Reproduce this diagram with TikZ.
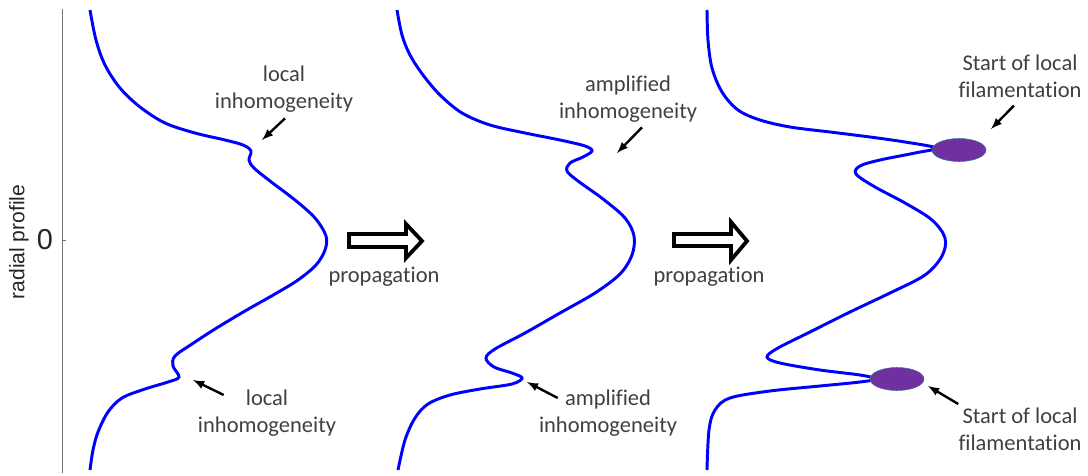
\documentclass[tikz,border=0pt]{standalone}
\usepackage{fontspec}
\setmainfont{Carlito}[Ligatures=NoCommon]
\newfontfamily\axisfont{Liberation Sans}
\usetikzlibrary{shapes,arrows,positioning,calc}
\definecolor{txtgray}{RGB}{64,64,64}
\definecolor{axisgray}{RGB}{38,38,38}
\definecolor{filpurple}{RGB}{112,48,160}
\definecolor{filedge}{RGB}{65,113,156}
\tikzset{
    profile/.style={
            blue,
            line width=2.1pt,
            smooth,
            tension=0.55
        },
    annot/.style={
            text=txtgray,
            align=center,
            inner sep=0pt,
            font=\fontsize{16}{19}\selectfont
        },
    pointer/.style={
            -latex,
            line width=1.7pt
        },
    propagation arrow/.style={
            draw=black,
            fill=white,
            line width=2.7pt,
            line join=miter
        },
    filament/.style={
            ellipse,
            fill=filpurple,
            draw=filedge,
            line width=0.4pt,
            minimum width=1.35cm,
            minimum height=0.575cm,
            inner sep=0pt
        },
    axisline/.style={
            black!55,
            line width=0.7pt
        }
}
\begin{document}
\begin{tikzpicture}[x=0.025cm, y=-0.025cm]
  \useasboundingbox (0,0) rectangle (1088,475);
  % axis
  \draw[axisline] (62,9) -- (62,473);
  \draw[axisline] (62,240) -- (66,240);
  \node[text=axisgray, font=\axisfont\fontsize{20.5}{24}\selectfont] (zero) at (45,240) {0};
  \node[text=axisgray, font=\axisfont\fontsize{15}{18}\selectfont, rotate=90] (ylabel) at (19,242) {radial profile};
  % profiles
  \draw[profile] plot coordinates {(90,10) (96,40) (105,65) (120,88) (140,107) (165,123) (195,133) (225,140) (243,145) (251,151) (249,160) (254,168) (270,181) (295,200) (315,218) (326,236) (325,250) (316,265) (298,280) (275,294) (245,311) (215,329) (192,344) (175,356) (173,366) (179,377) (168,382) (145,389) (122,398) (108,412) (98,432) (93,450) (90,470)};
  \draw[profile] plot coordinates {(397,10) (402,35) (410,55) (423,75) (440,95) (462,113) (490,125) (525,133) (560,140) (585,146) (592,151) (583,157) (570,163) (567,171) (578,181) (603,199) (625,218) (634,236) (632,255) (620,274) (595,293) (560,313) (525,333) (495,349) (486,358) (494,367) (512,373) (522,378) (512,384) (480,389) (450,395) (428,404) (415,418) (405,440) (398,470)};
  \draw[profile] plot coordinates {(707,10) (708,40) (712,68) (722,92) (738,110) (760,120) (790,127) (830,132) (870,137) (905,142) (936,148) (915,153) (880,160) (860,166) (856,174) (875,187) (905,203) (932,220) (945,238) (942,256) (925,275) (890,293) (850,312) (810,332) (778,348) (767,357) (780,363) (820,370) (860,375) (876,379) (860,382) (820,386) (770,391) (730,398) (715,410) (709,430) (707,470)};
  \node[filament] (filtop) at (959,150) {};
  \node[filament] (filbot) at (897,379) {};
  % propagation arrows
  \draw[propagation arrow] (349,234) -- (406,234) -- (406,224) -- (422,241) -- (406,258) -- (406,247) -- (349,247) -- cycle;
  \draw[propagation arrow] (674,234) -- (731,234) -- (731,222) -- (747,241) -- (731,260) -- (731,246) -- (674,246) -- cycle;
  \node[annot, anchor=base] (prop1) at (384,282) {propagation};
  \node[annot, anchor=base] (prop2) at (709,282) {propagation};
  % annotations
  \node[annot] (inhomtop) at (284,89) {local\\inhomogeneity};
  \node[annot] (inhombot) at (267,413) {local\\inhomogeneity};
  \node[annot] (amptop) at (628,99) {amplified\\inhomogeneity};
  \node[annot] (ampbot) at (608,413) {amplified\\inhomogeneity};
  \node[annot] (filtxttop) at (1020,76) {Start of local\\filamentation};
  \node[annot] (filtxtbot) at (1020,429) {Start of local\\filamentation};
  \coordinate (inhomtoptip) at (262,140);
  \coordinate (inhombottip) at (193,380);
  \coordinate (amptoptip) at (617,153);
  \coordinate (ampbottip) at (527,382);
  \coordinate (filtoptip) at (991,129);
  \coordinate (filbottip) at (928,386);
  \draw[pointer] ($(inhomtop.south)+(1,6)$) -- (inhomtoptip);
  \draw[pointer] ($(inhombot.west)+(26,-18)$) -- (inhombottip);
  \draw[pointer] ($(amptop.south)+(14,5)$) -- (amptoptip);
  \draw[pointer] ($(ampbot.west)+(19,-15)$) -- (ampbottip);
  \draw[pointer] ($(filtxttop.south)+(-6,8)$) -- (filtoptip);
  \draw[pointer] ($(filtxtbot.west)+(0,-25)$) -- (filbottip);
\end{tikzpicture}
\end{document}
